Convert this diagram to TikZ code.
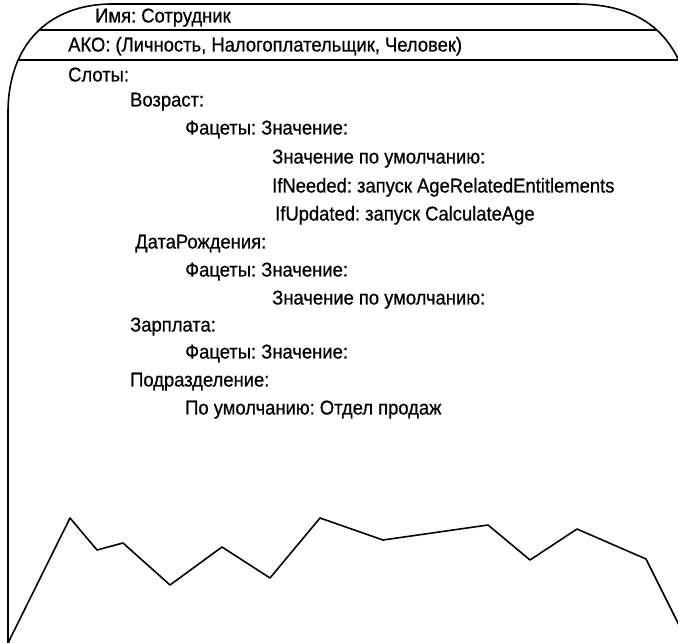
\documentclass[tikz,border=0pt]{standalone}
\usepackage{fontspec}
\setmainfont[FakeStretch=0.92,FakeBold=0.6]{Liberation Sans}
\begin{document}
\frenchspacing
\begin{tikzpicture}[x=1pt,y=1pt,
  outline/.style={line width=1.6pt, line join=round, line cap=round},
  lbl/.style={anchor=base west, inner sep=0pt, font=\fontsize{20}{24}\selectfont}]
\useasboundingbox (0,0) rectangle (678,643);

% frame edge: straight left side, rounded top corners
\def\frameedge{(8,0) -- (8,530) .. controls (8,600) and (50,638) .. (110,639)
  -- (575,639) .. controls (635,639) and (668,615) .. (684,570) -- (700,520)}
\draw[outline] \frameedge;

% separator rules, trimmed to the frame
\begin{scope}
  \clip \frameedge -- (700,0) -- cycle;
  \draw[outline] (0,613) -- (700,613);
  \draw[outline] (0,583) -- (700,583);
\end{scope}

% torn lower edge
\draw[outline] (8,0) -- (70,125) -- (97,93) -- (123,100) -- (170,58)
  -- (222,96) -- (270,65) -- (320,125) -- (383,103) -- (488,118)
  -- (530,83) -- (577,114) -- (646,84) -- (688,0);

% frame contents
\node[lbl] (name)   at (95,620.5)  {Имя: Сотрудник};
\node[lbl] (ako)    at (68,591.5)  {АКО: (Личность, Налогоплательщик, Человек)};
\node[lbl] (slots)  at (68,561.5)  {Слоты:};
\node[lbl] (age)    at (130,536.5) {Возраст:};
\node[lbl] (agef)   at (185,508.5) {Фацеты: Значение:};
\node[lbl] (aged)   at (272,479.5) {Значение по умолчанию:};
\node[lbl] (agen)   at (272,450.5) {IfNeeded: запуск AgeRelatedEntitlements};
\node[lbl] (ageu)   at (275,422.5) {IfUpdated: запуск CalculateAge};
\node[lbl] (birth)  at (135,394.5) {ДатаРождения:};
\node[lbl] (birthf) at (185,366.5) {Фацеты: Значение:};
\node[lbl] (birthd) at (272,338.5) {Значение по умолчанию:};
\node[lbl] (pay)    at (130,311.5) {Зарплата:};
\node[lbl] (payf)   at (185,284.5) {Фацеты: Значение:};
\node[lbl] (dept)   at (130,256.5) {Подразделение:};
\node[lbl] (deptd)  at (185,228.5) {По умолчанию: Отдел продаж};
\end{tikzpicture}
\end{document}
